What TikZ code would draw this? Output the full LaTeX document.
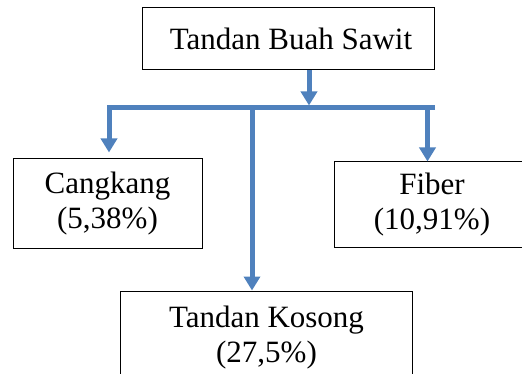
\documentclass[tikz,border=0pt]{standalone}
\usepackage{fontspec}
\setmainfont{Liberation Serif}
\usetikzlibrary{arrows.meta}
\definecolor{strelka}{RGB}{79,129,189}

\begin{document}
\begin{tikzpicture}[x=1pt,y=-1pt,
    blok/.style={draw, line width=1pt, align=center, inner sep=0pt,
        font=\fontsize{31}{35}\selectfont},
    potok/.style={draw=strelka, line width=5pt,
        -{Triangle[width=16pt,length=14pt]}}]
    \useasboundingbox (0,0) rectangle (522,374);
    \clip (0,0) rectangle (522,374);

    % Блоки
    \node[blok, minimum width=292pt, minimum height=62pt] (tbs) at (288,39) {\hspace{6pt}Tandan Buah Sawit};
    \node[blok, minimum width=189pt, minimum height=89pt] (cang) at (107.5,203.5) {Cangkang\\(5,38\%)};
    \node[blok, minimum width=196pt, minimum height=85pt] (fib) at (432,204.5) {Fiber\\(10,91\%)};
    \node[blok, minimum width=292pt, minimum height=94pt] (tk) at (266.5,338) {Tandan Kosong\\(27,5\%)};

    % Шина
    \coordinate (shina) at (309,108);
    \coordinate (shinaL) at (109,108);
    \coordinate (shinaR) at (435,108);
    \coordinate (vetM) at (252,108);
    \coordinate (vetR) at (427.5,108);

    % Стрелки
    \draw[potok] (tbs.south -| shina) -- ([yshift=2.5pt]shina);
    \draw[potok] (shinaR) -- (shinaL) -- ([yshift=6pt]cang.north -| shinaL);
    \draw[potok] (vetM) -- (tk.north -| vetM);
    \draw[potok] (vetR) -- (fib.north -| vetR);

\end{tikzpicture}
\end{document}
